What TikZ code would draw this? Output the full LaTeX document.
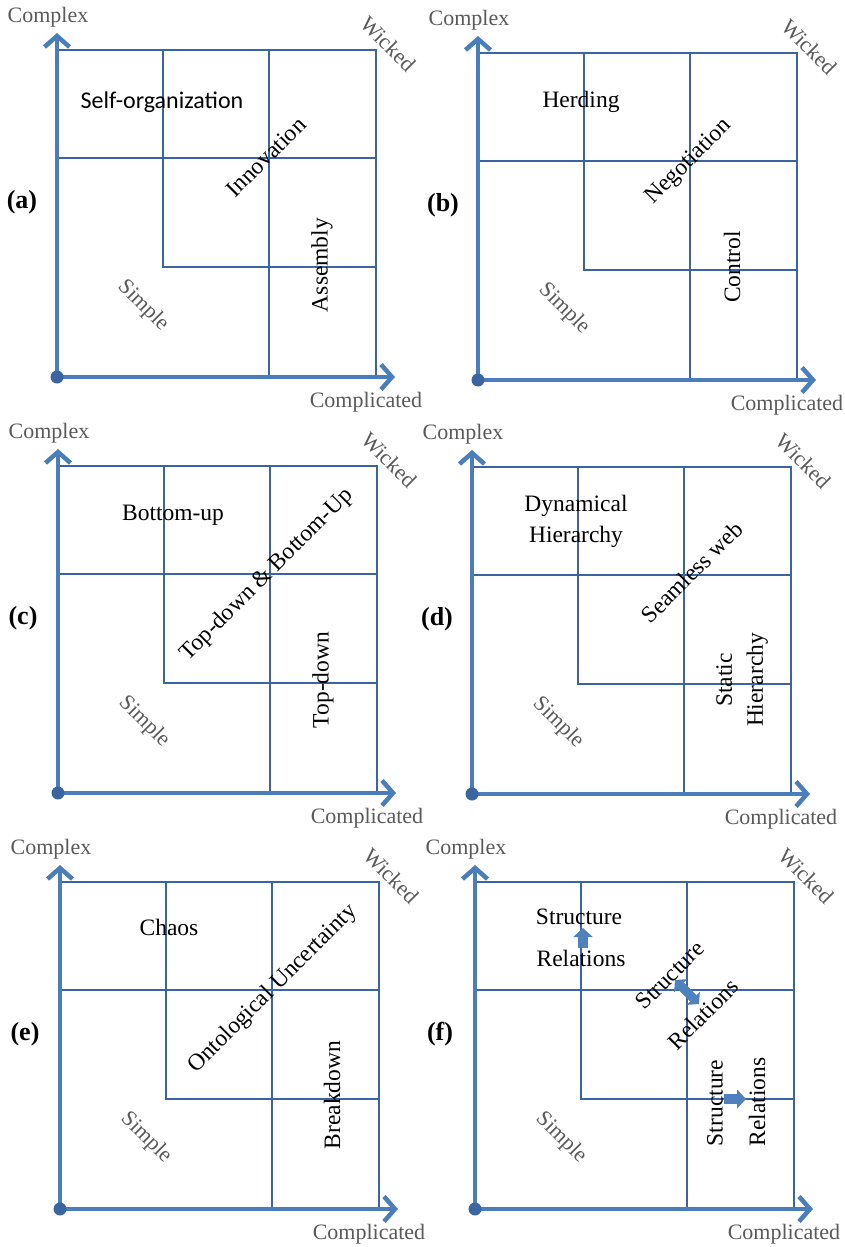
\documentclass[tikz,border=0pt]{standalone}
\usepackage{fontspec}
\setmainfont{Liberation Serif}
\newfontfamily\calibrifont{Carlito}
\usetikzlibrary{arrows.meta}
\definecolor{axisblue}{HTML}{4A7EBB}
\definecolor{gridblue}{HTML}{3A65A2}
\definecolor{dotblue}{HTML}{3A65A0}
\definecolor{labgray}{HTML}{595959}
\definecolor{fillblue}{HTML}{4F81BD}
\tikzset{
  axisline/.style={draw=axisblue, line width=4.5pt, -{Straight Barb[length=11pt,width=25pt,line width=4.5pt]}},
  gridline/.style={draw=gridblue, line width=1.4pt},
  grey/.style={text=labgray, font=\fontsize{22}{24}\selectfont, inner sep=0pt},
  lbl/.style={font=\fontsize{23.5}{31}\selectfont, inner sep=0pt, align=center},
  plabel/.style={font=\fontsize{26}{30}\selectfont\bfseries, inner sep=0pt},
  blockarrow/.style={draw=fillblue, line width=9.5pt, -{Triangle[length=9pt,width=19pt]}},
  dblockarrow/.style={draw=fillblue, line width=9pt, {Triangle[length=8pt,width=18pt]}-{Triangle[length=8pt,width=18pt]}},
}
\newcommand\quadframe[1]{%
  \draw[gridline] (0,0) rectangle (319,327);
  \draw[gridline] (0,108) -- (319,108);
  \draw[gridline] (106,0) -- (106,217) -- (319,217);
  \draw[gridline] (212,0) -- (212,327);
  \coordinate (#1-o) at (0,327);
  \coordinate (#1-ytip) at (0,-17);
  \coordinate (#1-xtip) at (338,327);
  \draw[axisline] (#1-o) -- (#1-ytip);
  \draw[axisline] (#1-o) -- (#1-xtip);
  \node[circle, fill=dotblue, inner sep=0pt, minimum size=13pt] (#1-dot) at (#1-o) {};
  \node[grey] (#1-complex) at (-9,-33) {Complex};
  \node[grey, rotate=-45] (#1-wicked) at (331,-6) {Wicked};
  \node[grey, rotate=-45] (#1-simple) at (86,256) {Simple};
  \node[grey] (#1-compl) at (309,352) {Complicated};
  \node[plabel] (#1-lab) at (-35,152) {(#1)};
}
\begin{document}
\begin{tikzpicture}[x=1pt,y=-1pt]
\useasboundingbox (0,0) rectangle (845,1247);
% (a)
\begin{scope}[shift={(57,50)}]
  \quadframe{a}
  \node[lbl, font=\calibrifont\fontsize{24}{28}\selectfont] (a-self) at (105,52) {Self-organization};
  \node[lbl, rotate=45] (a-inno) at (209,107) {Innovation};
  \node[lbl, rotate=90] (a-ass) at (265,215) {Assembly};
\end{scope}
% (b)
\begin{scope}[shift={(478,53)}]
  \quadframe{b}
  \node[lbl] (b-herd) at (103,49) {Herding};
  \node[lbl, rotate=45] (b-neg) at (211,109) {Negotiation};
  \node[lbl, rotate=90] (b-ctrl) at (254,214) {Control};
\end{scope}
% (c)
\begin{scope}[shift={(58,466)}]
  \quadframe{c}
  \node[lbl] (c-bu) at (115,49) {Bottom-up};
  \node[lbl, rotate=45] (c-tdbu) at (209,109) {Top-down \& Bottom-Up};
  \node[lbl, rotate=90] (c-td) at (265,214) {Top-down};
\end{scope}
% (d)
\begin{scope}[shift={(472,467)}]
  \quadframe{d}
  \node[lbl] (d-dyn) at (104,54) {Dynamical\\Hierarchy};
  \node[lbl, rotate=45] (d-sw) at (220,105) {Seamless web};
  \node[lbl, rotate=90] (d-stat) at (270,213) {Static\\Hierarchy};
\end{scope}
% (e)
\begin{scope}[shift={(60,882)}]
  \quadframe{e}
  \node[lbl] (e-chaos) at (109,45) {Chaos};
  \node[lbl, rotate=45] (e-ont) at (213,107) {Ontological Uncertainty};
  \node[lbl, rotate=90] (e-brk) at (272,213) {Breakdown};
\end{scope}
% (f)
\begin{scope}[shift={(475,882)}]
  \quadframe{f}
  \node[lbl] (f-s1) at (104,35) {Structure};
  \node[lbl] (f-r1) at (106,76) {Relations};
  \coordinate (f-up-s) at (108,66);
  \coordinate (f-up-e) at (108,46);
  \draw[blockarrow] (f-up-s) -- (f-up-e);
  \node[lbl, rotate=45] (f-s2) at (195,93) {Structure};
  \node[lbl, rotate=45] (f-r2) at (228,132) {Relations};
  \coordinate (f-d-s) at (200,98);
  \coordinate (f-d-e) at (224,122);
  \draw[dblockarrow] (f-d-s) -- (f-d-e);
  \node[lbl, rotate=90] (f-s3) at (240,221) {Structure};
  \node[lbl, rotate=90] (f-r3) at (282,220) {Relations};
  \coordinate (f-r-s) at (249,217);
  \coordinate (f-r-e) at (271,217);
  \draw[blockarrow] (f-r-s) -- (f-r-e);
\end{scope}
\end{tikzpicture}
\end{document}
